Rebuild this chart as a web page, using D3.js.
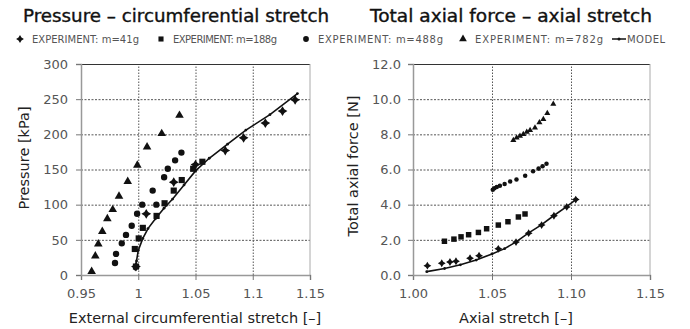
<!DOCTYPE html>
<html>
<head>
<meta charset="utf-8">
<script src="https://cdn.jsdelivr.net/npm/d3@7"></script>
<style>
  body { margin: 0; background: #fff; }
  svg { display: block; }
  .tick text { font-family: "DejaVu Sans", sans-serif; fill: #555; }
</style>
</head>
<body>
<div id="chart"></div>
<script>
// ---- data: pressure vs circumferential stretch ----
const pXTicks = [0.95, 1, 1.05, 1.1, 1.15];
const pYTicks = [0, 50, 100, 150, 200, 250, 300];

const p41 = [
  [0.998, 12], [1.007, 87], [1.031, 132], [1.050, 157], [1.076, 177],
  [1.092, 195], [1.111, 216], [1.126, 233], [1.137, 249]
];
const p188 = [
  [0.998, 12], [0.997, 37], [1.0004, 52], [1.004, 67], [1.016, 84],
  [1.023, 102], [1.031, 120], [1.038, 135], [1.048, 151], [1.056, 161]
];
const p488 = [
  [0.9797, 17], [0.9806, 30], [0.9856, 45], [0.9893, 57], [0.9943, 70],
  [0.999, 87], [1.0035, 100], [1.0158, 100], [1.0126, 120], [1.0226, 139],
  [1.0258, 151], [1.0322, 163], [1.0377, 174]
];
const p782 = [
  [0.9593, 5], [0.9625, 27], [0.9651, 44], [0.9686, 62], [0.973, 80],
  [0.9777, 93], [0.9832, 112], [0.9908, 133], [0.9992, 156], [1.0077, 182],
  [1.0205, 201], [1.036, 227]
];
const pModel = [
  [0.9975, 8], [0.9985, 20], [1.000, 35], [1.004, 52], [1.0085, 66],
  [1.015, 80], [1.0225, 95], [1.030, 108], [1.040, 128], [1.050, 148],
  [1.062, 166], [1.078, 186], [1.094, 206], [1.115, 228], [1.139, 258]
];

// ---- data: axial force vs axial stretch ----
const fXTicks = [1.00, 1.05, 1.10, 1.15];
const fYTicks = [0, 2, 4, 6, 8, 10, 12];

const f41 = [
  [1.0091, 0.53], [1.0182, 0.67], [1.0234, 0.74], [1.0272, 0.78], [1.0361, 0.95],
  [1.0418, 1.10], [1.054, 1.49], [1.0652, 1.87], [1.0732, 2.38], [1.0814, 2.84],
  [1.0892, 3.37], [1.0973, 3.87], [1.103, 4.29]
];
const f188 = [
  [1.0199, 1.92], [1.0259, 2.04], [1.0304, 2.17], [1.0352, 2.29], [1.0414, 2.42],
  [1.0466, 2.63], [1.054, 2.84], [1.0601, 3.03], [1.0667, 3.30], [1.0709, 3.47]
];
const f488 = [
  [1.0505, 4.85], [1.0515, 4.93], [1.053, 5.0], [1.055, 5.08], [1.058, 5.18],
  [1.0615, 5.32], [1.0655, 5.43], [1.071, 5.65], [1.076, 5.9], [1.0795, 6.05],
  [1.082, 6.18], [1.0845, 6.33]
];
const f782 = [
  [1.0635, 7.67], [1.0656, 7.81], [1.0677, 7.90], [1.0698, 8.0], [1.072, 8.13],
  [1.0741, 8.23], [1.0772, 8.38], [1.080, 8.67], [1.0825, 8.86], [1.085, 9.2],
  [1.0888, 9.73]
];
const fModel = [
  [1.0087, 0.19], [1.02, 0.37], [1.03, 0.58], [1.04, 0.85], [1.05, 1.2],
  [1.058, 1.5], [1.065, 1.87], [1.073, 2.38], [1.081, 2.84], [1.089, 3.37],
  [1.097, 3.87], [1.1035, 4.32]
];

const legendLabels = [
  "EXPERIMENT: m=41g", "EXPERIMENT: m=188g", "EXPERIMENT: m=488g",
  "EXPERIMENT: m=782g", "MODEL"
];

// 4-point star used for the m=41g series
const star4 = {
  draw(ctx, size) {
    const r = Math.sqrt(size) / 1.3, k = r * 0.38;
    ctx.moveTo(0, -r); ctx.lineTo(k, -k); ctx.lineTo(r, 0); ctx.lineTo(k, k);
    ctx.lineTo(0, r); ctx.lineTo(-k, k); ctx.lineTo(-r, 0); ctx.lineTo(-k, -k);
    ctx.closePath();
  }
};

const svg = d3.select("#chart").append("svg")
  .attr("width", 690).attr("height", 329);

function panel(opts) {
  const x = d3.scaleLinear().domain(opts.xDomain).range(opts.xRange);
  const y = d3.scaleLinear().domain(opts.yDomain).range([275, 64]);
  const g = svg.append("g");
  const w = opts.xRange[1] - opts.xRange[0];

  // grid
  g.append("g")
    .attr("transform", "translate(0,275)")
    .call(d3.axisBottom(x).tickValues(opts.xTicks.slice(1, -1)).tickSize(-211).tickFormat(""))
    .call(a => a.select(".domain").remove())
    .call(a => a.selectAll("line").attr("stroke", "#555").attr("stroke-dasharray", "1.5,1.5"));
  g.append("g")
    .attr("transform", `translate(${opts.xRange[0]},0)`)
    .call(d3.axisLeft(y).tickValues(opts.yTicks.slice(1, -1)).tickSize(-w).tickFormat(""))
    .call(a => a.select(".domain").remove())
    .call(a => a.selectAll("line").attr("stroke", "#555").attr("stroke-dasharray", "2,1.5"));

  // frame: top and right
  g.append("line").attr("x1", opts.xRange[0]).attr("x2", opts.xRange[1])
    .attr("y1", 64.5).attr("y2", 64.5).attr("stroke", "#333").attr("stroke-width", 1.2);
  g.append("line").attr("x1", opts.xRange[1]).attr("x2", opts.xRange[1])
    .attr("y1", 64).attr("y2", 275).attr("stroke", "#aaa");

  // axes
  g.append("g")
    .attr("transform", "translate(0,275)")
    .call(d3.axisBottom(x).tickValues(opts.xTicks).tickSize(5).tickPadding(9).tickFormat(opts.xFormat))
    .call(a => a.select(".domain").attr("stroke", "#999").attr("stroke-width", 1.5))
    .call(a => a.selectAll("line").attr("stroke", "#777"))
    .call(a => a.selectAll("text").style("font-size", "13px"));
  g.append("g")
    .attr("transform", `translate(${opts.xRange[0]},0)`)
    .call(d3.axisLeft(y).tickValues(opts.yTicks).tickSize(5).tickPadding(opts.yPad).tickFormat(opts.yFormat))
    .call(a => a.select(".domain").attr("stroke", "#999").attr("stroke-width", 1.5))
    .call(a => a.selectAll("line").attr("stroke", "#777"))
    .call(a => a.selectAll("text").style("font-size", "13px"));

  // model line
  g.append("path").datum(opts.model)
    .attr("fill", "none").attr("stroke", "#111").attr("stroke-width", 1.6)
    .attr("d", d3.line().x(d => x(d[0])).y(d => y(d[1])));
  g.selectAll(".mdot").data(opts.model).join("circle")
    .attr("cx", d => x(d[0])).attr("cy", d => y(d[1])).attr("r", 1.4).attr("fill", "#111");

  // experiments
  const series = [
    { data: opts.s41, type: star4, size: opts.sz[0] },
    { data: opts.s188, type: d3.symbolSquare, size: opts.sz[1] },
    { data: opts.s488, type: d3.symbolCircle, size: opts.sz[2] },
    { data: opts.s782, type: d3.symbolTriangle, size: opts.sz[3] }
  ];
  series.forEach(s => {
    g.append("g").selectAll("path").data(s.data).join("path")
      .attr("transform", d => `translate(${x(d[0])},${y(d[1])})`)
      .attr("d", d3.symbol().type(s.type).size(s.size))
      .attr("fill", "#111");
  });

  // titles
  const font = '"DejaVu Sans", sans-serif';
  svg.append("text").attr("x", opts.titleX).attr("y", 22)
    .attr("text-anchor", "middle").attr("font-family", font)
    .attr("font-size", 17).attr("fill", "#111").attr("stroke", "#111").attr("stroke-width", 0.35)
    .attr("textLength", opts.titleLen).attr("lengthAdjust", "spacingAndGlyphs")
    .text(opts.title);
  svg.append("text").attr("x", opts.xLabelX).attr("y", 323)
    .attr("text-anchor", "middle").attr("font-family", font)
    .attr("font-size", 14.5).attr("fill", "#222")
    .text(opts.xLabel);
  svg.append("text")
    .attr("transform", `translate(${opts.yLabelX},${opts.yLabelY}) rotate(-90)`)
    .attr("text-anchor", "middle").attr("font-family", font)
    .attr("font-size", 14.5).attr("fill", "#222")
    .text(opts.yLabel);
}

panel({
  xDomain: [0.95, 1.15], xRange: [81, 310], yDomain: [0, 300],
  xTicks: pXTicks, yTicks: pYTicks,
  xFormat: d3.format(""), yFormat: d3.format("d"), yPad: 8,
  model: pModel, s41: p41, s188: p188, s488: p488, s782: p782,
  sz: [40, 38, 32, 32],
  title: "Pressure – circumferential stretch", titleX: 176, titleLen: 306,
  xLabel: "External circumferential stretch [–]", xLabelX: 195,
  yLabel: "Pressure [kPa]", yLabelX: 29, yLabelY: 158
});

panel({
  xDomain: [1.00, 1.15], xRange: [413, 650], yDomain: [0, 12],
  xTicks: fXTicks, yTicks: fYTicks,
  xFormat: d3.format(".2f"), yFormat: d3.format(".1f"), yPad: 7,
  model: fModel, s41: f41, s188: f188, s488: f488, s782: f782,
  sz: [26, 30, 16, 16],
  title: "Total axial force – axial stretch", titleX: 511, titleLen: 282,
  xLabel: "Axial stretch [–]", xLabelX: 516,
  yLabel: "Total axial force [N]", yLabelX: 358, yLabelY: 166
});

// legend
const legendX = [20, 161, 306, 463, 612];
const legendLen = [107, 104, 125, 128, 38];
const legendTypes = [star4, d3.symbolSquare, d3.symbolCircle, d3.symbolTriangle, null];
const leg = svg.append("g").attr("font-family", '"DejaVu Sans", sans-serif')
  .attr("font-size", 10).attr("fill", "#555");
legendLabels.forEach((lab, i) => {
  const lx = legendX[i];
  if (legendTypes[i]) {
    leg.append("path").attr("transform", `translate(${lx},39)`)
      .attr("d", d3.symbol().type(legendTypes[i]).size(26)).attr("fill", "#111");
    leg.append("text").attr("x", lx + 12).attr("y", 42.5)
      .attr("textLength", legendLen[i]).attr("lengthAdjust", "spacing").text(lab);
  } else {
    leg.append("line").attr("x1", lx).attr("x2", lx + 14).attr("y1", 39).attr("y2", 39)
      .attr("stroke", "#111").attr("stroke-width", 1.5);
    leg.append("circle").attr("cx", lx + 7).attr("cy", 39).attr("r", 1.5).attr("fill", "#111");
    leg.append("text").attr("x", lx + 15).attr("y", 42.5)
      .attr("textLength", legendLen[i]).attr("lengthAdjust", "spacing").text(lab);
  }
});
</script>
</body>
</html>
